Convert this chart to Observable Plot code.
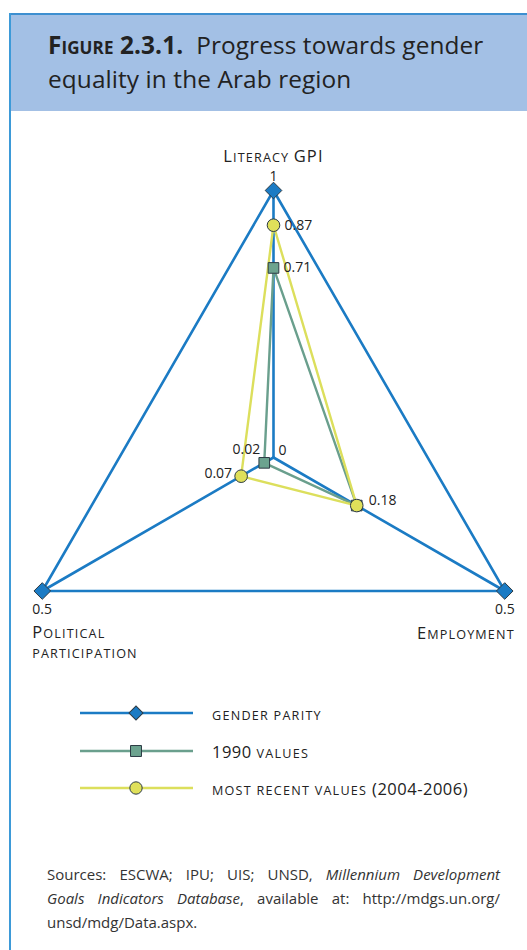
<!DOCTYPE html>
<html><head><meta charset="utf-8">
<script src="https://cdn.jsdelivr.net/npm/d3@7"></script>
<script src="https://cdn.jsdelivr.net/npm/@observablehq/plot@0.6"></script>
<style>
html,body{margin:0;padding:0;background:#fff;}
body{width:527px;height:950px;overflow:hidden;font-family:"Open Sans","Noto Sans",sans-serif;color:#222;}
#frame{position:absolute;left:9px;top:13px;width:530px;height:950px;border-left:2.5px solid #3d9ad8;}
#head{position:absolute;left:0;top:0;width:530px;height:96px;background:#a3c0e5;border-top:2px solid #3d8fd0;}
#head .t{position:absolute;left:37px;top:13px;font-size:24.4px;line-height:34px;color:#222;letter-spacing:0.1px;}
#head .t b{font-variant:small-caps;font-weight:700;}
#chart{position:absolute;left:0;top:140px;}
#legend{position:absolute;left:0;top:695px;width:527px;}
.row{position:absolute;left:80px;height:20px;}
.row svg{position:absolute;left:0;top:0;}
.row > span{position:absolute;left:132px;top:-1px;font-size:16.5px;letter-spacing:0.5px;white-space:nowrap;color:#222;}
.sc{font-size:12.6px;letter-spacing:1.25px;text-transform:uppercase;}
#cap{position:absolute;left:47px;top:862px;width:453px;font-size:15px;line-height:24px;color:#333;}
#cap div{text-align:justify;text-align-last:justify;white-space:nowrap;}
#cap div.last{text-align-last:left;}
</style></head>
<body>
<div id="frame"><div id="head"><div class="t"><b>Figure 2.3.1.</b>&nbsp; Progress towards gender<br>equality in the Arab region</div></div></div>
<div id="chart"></div>
<div id="legend"></div>
<div id="cap">
<div>Sources: ESCWA; IPU; UIS; UNSD, <i>Millennium Development</i></div>
<div><i>Goals Indicators Database</i>, available at: http://mdgs.un.org/</div>
<div class="last">unsd/mdg/Data.aspx.</div>
</div>
<script>
const axesNames = ["Literacy GPI", "Political participation", "Employment"];
const axisMax = [1, 0.5, 0.5];
const angles = [90, 210, 330];
const parity = [1, 0.5, 0.5];
const values1990 = [0.71, 0.02, 0.18];
const valuesRecent = [0.87, 0.07, 0.18];
const seriesNames = ["gender parity", "1990 values", "most recent values (2004-2006)"];
const colors = ["#1b7bc4", "#6a9f8d", "#dcdf5c"];
const fills = ["#1b7bc4", "#6ca38f", "#dfe05a"];
const symbols = ["diamond2", "square", "circle"];

function pt(i, v) {
  const a = angles[i] * Math.PI / 180, r = v / axisMax[i];
  return {x: r * Math.cos(a), y: r * Math.sin(a), v, i};
}
const seriesVals = [parity, values1990, valuesRecent];
const polys = seriesVals.map((vals, s) => vals.map((v, i) => ({...pt(i, v), s})));
const closed = polys.map(p => [...p, p[0]]);
const spokes = axesNames.flatMap((n, i) => [{...pt(i, 0), k: i}, {...pt(i, axisMax[i]), k: i}]);

const font = '"Open Sans","Noto Sans",sans-serif';
const valueLabels = [
  {...pt(0, valuesRecent[0]), t: "0.87", dx: 11, dy: 0, a: "start"},
  {...pt(0, values1990[0]), t: "0.71", dx: 10, dy: 0, a: "start"},
  {...pt(1, values1990[1]), t: "0.02", dx: -4, dy: -13, a: "end"},
  {...pt(1, 0), t: "0", dx: 5, dy: -7, a: "start"},
  {...pt(1, valuesRecent[1]), t: "0.07", dx: -9, dy: -3, a: "end"},
  {...pt(2, valuesRecent[2]), t: "0.18", dx: 12, dy: -5, a: "start"},
  {...pt(0, parity[0]), t: "1", dx: 0, dy: -14, a: "middle"},
  {...pt(1, parity[1]), t: "0.5", dx: -10, dy: 19, a: "start"},
  {...pt(2, parity[2]), t: "0.5", dx: 10, dy: 19, a: "end"}
];
const axisLabels = [
  {...pt(0, 1), t: "Literacy GPI", dx: 0, dy: -35, a: "middle"},
  {...pt(1, 0.5), t: "Political\nparticipation", dx: -10, dy: 51, a: "start"},
  {...pt(2, 0.5), t: "Employment", dx: 10, dy: 42, a: "end"}
];

const lineMarks = [
  Plot.line(spokes, {x: "x", y: "y", z: "k", stroke: colors[0], strokeWidth: 2.6}),
  ...closed.map((p, s) => Plot.line(p, {x: "x", y: "y", stroke: colors[s], strokeWidth: s === 0 ? 2.6 : 2.4}))
];
const dotMarks = polys.map((p, s) => Plot.dot(p, {x: "x", y: "y", symbol: () => symbols[s], r: s === 0 ? 7.5 : s === 1 ? 6 : 6.3, fill: fills[s], stroke: "#2c3a44", strokeWidth: 1}));
const labelMarks = valueLabels.map(d => Plot.text([d], {x: "x", y: "y", text: "t", dx: d.dx, dy: d.dy, textAnchor: d.a, fontSize: 14, fill: "#222", fontFamily: font}));
const axisMarks = axisLabels.map(d => Plot.text([d], {x: "x", y: "y", text: "t", dx: d.dx, dy: d.dy, textAnchor: d.a, fontSize: 16, fill: "#222", fontFamily: font, lineHeight: 1.25}));

const plot = Plot.plot({
  width: 527, height: 540,
  margin: 0,
  x: {domain: [-1, 1], range: [6, 540], axis: null},
  y: {domain: [-1, 1], range: [584, 50], axis: null},
  style: {background: "transparent", overflow: "visible"},
  marks: [...lineMarks, ...dotMarks, ...labelMarks, ...axisMarks]
});
document.getElementById("chart").appendChild(plot);

// render axis titles as true-looking small caps
const axisTexts = new Set(axisLabels.flatMap(d => d.t.split("\n")));
d3.select(plot).selectAll("text").each(function() {
  const el = this;
  const lines = el.querySelectorAll("tspan").length ? Array.from(el.querySelectorAll("tspan")) : [el];
  lines.forEach(line => {
    const str = line.textContent;
    if (!axisTexts.has(str)) return;
    line.textContent = "";
    const sel = d3.select(line).attr("letter-spacing", 1.15);
    const parts = str.match(/[A-Z]+|[^A-Z]+/g);
    parts.forEach(p => {
      const isCap = /^[A-Z]+$/.test(p);
      sel.append("tspan").attr("font-size", isCap ? 16.5 : 12.6).text(p.toUpperCase());
    });
  });
});

// legend
const legendHtml = [
  '<span class="sc">gender parity</span>',
  '1990 <span class="sc">values</span>',
  '<span class="sc">most recent values</span> (2004-2006)'
];
const leg = document.getElementById("legend");
seriesNames.forEach((n, s) => {
  const row = document.createElement("div");
  row.className = "row";
  row.style.top = (8 + s * 37.5) + "px";
  const svg = d3.create("svg").attr("width", 114).attr("height", 20);
  svg.append("line").attr("x1", 0).attr("x2", 113).attr("y1", 10).attr("y2", 10).attr("stroke", colors[s]).attr("stroke-width", 2.4);
  const sym = s === 0 ? d3.symbol(d3.symbolSquare, 98) : s === 1 ? d3.symbol(d3.symbolSquare, 120) : d3.symbol(d3.symbolCircle, 120);
  svg.append("path").attr("d", sym()).attr("transform", `translate(56,10)${s === 0 ? " rotate(45)" : ""}`)
    .attr("fill", fills[s]).attr("stroke", "#2c3a44").attr("stroke-width", 1);
  row.appendChild(svg.node());
  const sp = document.createElement("span");
  sp.innerHTML = legendHtml[s];
  sp.title = n;
  row.appendChild(sp);
  leg.appendChild(row);
});
</script>
</body></html>
